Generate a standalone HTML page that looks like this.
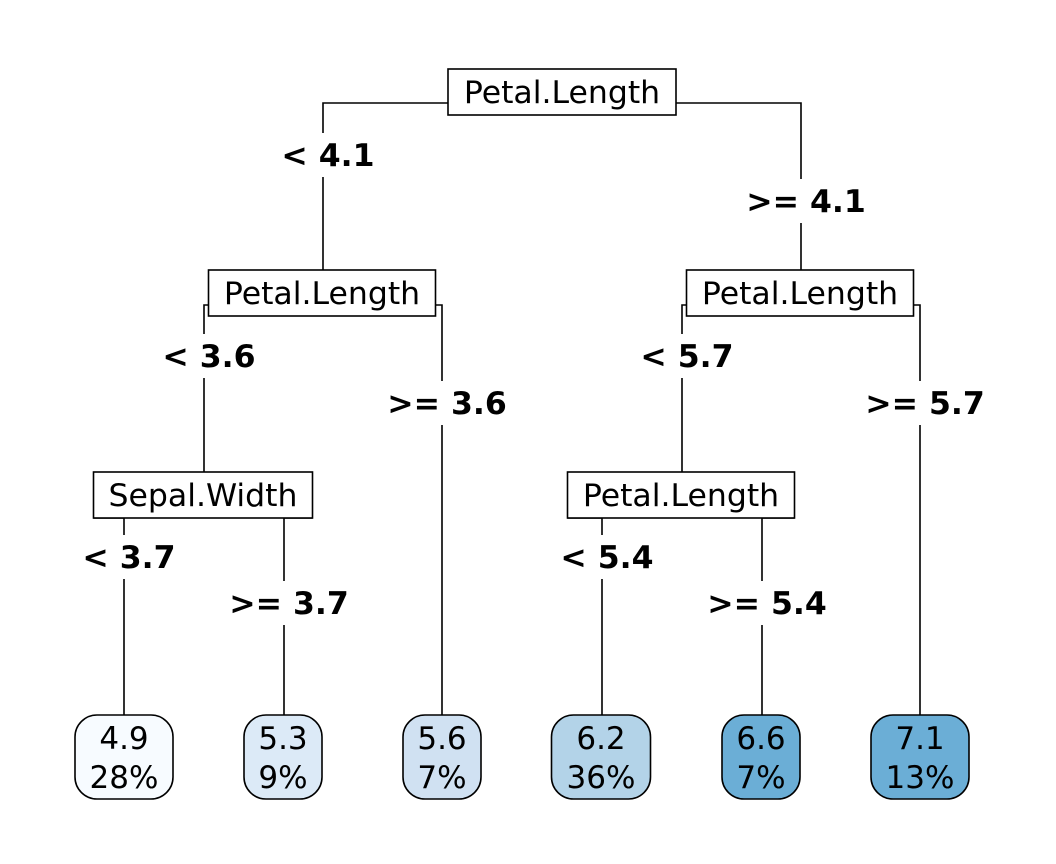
<!DOCTYPE html>
<html><head><meta charset="utf-8"><style>
html,body{margin:0;padding:0;background:#fff;}
svg{display:block;font-family:"DejaVu Sans","Liberation Sans",sans-serif;}
</style></head><body>
<svg id="chart" width="1056" height="864" viewBox="0 0 1056 864" xmlns="http://www.w3.org/2000/svg">
<rect width="1056" height="864" fill="#fff"/>
<g id="edges" stroke="#000" stroke-width="1.6" fill="none"></g>
<g id="labels"></g>
<g id="nodes"></g>
<g id="leaves"></g>
</svg>
<script>
const splitVars = ["Petal.Length","Petal.Length","Petal.Length","Sepal.Width","Petal.Length"];
const splitLeftLabels = ["< 4.1","< 3.6","< 5.7","< 3.7","< 5.4"];
const splitRightLabels = [">= 4.1",">= 3.6",">= 5.7",">= 3.7",">= 5.4"];
const leafValues = ["4.9","5.3","5.6","6.2","6.6","7.1"];
const leafPercents = ["28%","9%","7%","36%","7%","13%"];
const leafColors = ["#F7FBFF","#DCEAF7","#D0E1F2","#B3D3E8","#6BAED6","#6BAED6"];

const NS="http://www.w3.org/2000/svg";
function mk(tag,attrs,parent){const e=document.createElementNS(NS,tag);for(const k in attrs)e.setAttribute(k,attrs[k]);parent.appendChild(e);return e;}
const edges=document.getElementById('edges'),labels=document.getElementById('labels'),nodes=document.getElementById('nodes'),leaves=document.getElementById('leaves');
const layout=[
 [562,69,228,103,323,801,155,201,270,270],
 [322,270,227,305,204,442,356,403,472,715],
 [800,270,227,305,682,920,356,403,472,715],
 [203,472,219,518,124,284,557,603,715,715],
 [681,472,227,518,602,762,557,603,715,715]];
splitVars.forEach((v,i)=>{
  const [cx,top,w,hy,lx,rx,lly,rly,ley,rey]=layout[i];
  const bx=cx-w/2, ex=cx+w/2;
  let p=mk('path',{d:`M${bx},${hy}H${lx}V${ley}M${ex},${hy}H${rx}V${rey}`},edges);
  
  
  [[lx+5,lly,splitLeftLabels[i],'left'],[rx+5,rly,splitRightLabels[i],'right']].forEach(([x,y,t,s])=>{
    const g=mk('g',{},labels);
    
    
    const tw=t.length*18;
    mk('rect',{x:x-tw/2-4,y:y-22,width:tw+8,height:44,fill:'#fff'},g);
    const tx=mk('text',{x:x,y:y+11,'text-anchor':'middle','font-size':'31.5','font-weight':'bold'},g);
    tx.textContent=t;
  });
  const g=mk('g',{},nodes);
  
  
  mk('rect',{x:bx,y:top,width:w,height:46,fill:'#fff',stroke:'#000','stroke-width':1.6},g);
  const t=mk('text',{x:cx,y:top+34,'text-anchor':'middle','font-size':'31.5'},g);
  t.textContent=v;
});
const leafX=[124,283,442,601,761,920];
const leafW=[98,78,78,99,78,98];
leafValues.forEach((v,i)=>{
  const g=mk('g',{},leaves);
  
  
  mk('rect',{x:leafX[i]-leafW[i]/2,y:715,width:leafW[i],height:84,rx:22,ry:22,fill:leafColors[i],stroke:'#000','stroke-width':1.6},g);
  const a=mk('text',{x:leafX[i],y:749,'text-anchor':'middle','font-size':'31'},g);a.textContent=v;
  const b=mk('text',{x:leafX[i],y:788,'text-anchor':'middle','font-size':'31'},g);b.textContent=leafPercents[i];
});
</script>
</body></html>
